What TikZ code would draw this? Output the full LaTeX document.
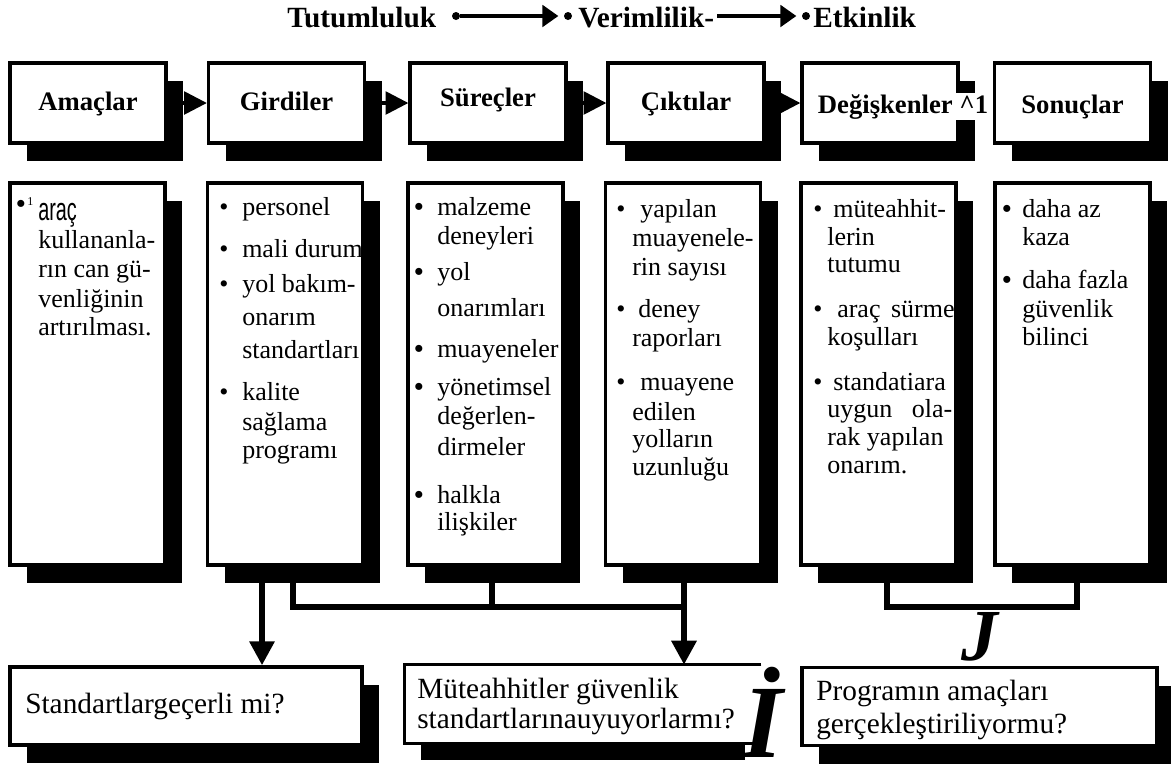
\documentclass[tikz,border=0pt]{standalone}
\usepackage{fontspec}
\setmainfont{Liberation Serif}
\newfontfamily\arialf{Liberation Sans}
\usetikzlibrary{arrows.meta,shadows,calc}
\begin{document}
\begin{tikzpicture}[x=0.75pt,y=-0.75pt,
  bx/.style={draw, line width=2.5pt, fill=white, inner sep=0pt,
     drop shadow={shadow xshift=12.75pt, shadow yshift=-13.5pt, fill=black, opacity=1}},
  tb/.style={bx, minimum width=117pt, minimum height=60pt},
  cb/.style={bx, minimum width=116.25pt, minimum height=286.5pt},
  lbl/.style={font=\fontsize{20}{22}\selectfont\bfseries, inner sep=0pt, anchor=base},
  hdr/.style={font=\fontsize{22}{24}\selectfont\bfseries, inner sep=0pt, anchor=base west},
  ct/.style={font=\fontsize{19.5}{22}\selectfont, inner sep=0pt, anchor=base west},
  bt/.style={font=\fontsize{22}{24}\selectfont, inner sep=0pt, anchor=base west},
  hdot/.style={circle, fill=black, inner sep=0pt, minimum size=6pt},
  harr/.style={line width=3.2pt, -{Triangle[length=12pt,width=16pt]}, shorten >=4pt},
  tarr/.style={line width=2.5pt, -{Triangle[length=17pt,width=17pt]}},
  conn/.style={line width=4.5pt, line join=miter},
  darr/.style={conn, -{Triangle[length=18pt,width=18pt]}},
]
\useasboundingbox (0,0) rectangle (1171,765);

% header
\node[hdr] (tut) at (287,27) {Tutumluluk};
\node[hdr] (ver) at (578,27) {Verimlilik-};
\node[hdr] (etk) at (813,27) {Etkinlik};
\node[hdot] (hd1) at (456,16) {};
\node[hdot] (hd2) at (568,16) {};
\node[hdot] (hd3) at (806,16) {};
\draw[harr] (hd1) -- (hd2);
\draw[harr] ([xshift=2pt]ver.east |- hd3) -- (hd3);

% top boxes
\node[tb] (a1) at (88,103) {};
\node[tb] (a2) at (286.5,103) {};
\node[tb] (a3) at (488,103) {};
\node[tb] (a4) at (686,103) {};
\node[tb] (a5) at (880,103) {};
\node[tb] (a6) at (1072.5,103) {};
\draw[tarr] (a1.east) -- (a2.west);
\draw[tarr] (a2.east) -- (a3.west);
\draw[tarr] (a3.east) -- (a4.west);
\draw[tarr] (a4.east) -- (a5.west);

\node[lbl] (l1) at (88,110) {Amaçlar};
\node[lbl] (l2) at (286.5,110) {Girdiler};
\node[lbl] (l3) at (488,106) {Süreçler};
\node[lbl] (l4) at (686,110) {Çıktılar};
\node[lbl, anchor=base west, fill=white, inner xsep=2pt, inner ysep=1pt] (l5) at (815,113) {Değişkenler \textasciicircum1};
\node[lbl] (l6) at (1072.5,113) {Sonuçlar};

% content boxes
\node[cb] (c1) at (87.5,374) {};
\node[cb] (c2) at (285,374) {};
\node[cb] (c3) at (485.5,374) {};
\node[cb] (c4) at (683,374) {};
\node[cb] (c5) at (878.5,374) {};
\node[cb] (c6) at (1072.5,374) {};

% bottom boxes
\node[bx, minimum width=264pt, minimum height=58.5pt] (b1) at (186,706) {};
\node[fill=white, inner sep=0pt, minimum width=267pt, minimum height=58.5pt] (b2) at (583,704) {};
\fill ([xshift=12pt]b2.south west) rectangle ([xshift=-12pt,yshift=-12.75pt]b2.south east);
\draw[line width=2.5pt] (b2.north east) -- (b2.north west) -- (b2.south west) -- (b2.south east);
\node[bx, minimum width=266.25pt, minimum height=58.5pt] (b3) at (979.5,706.5) {};

% connectors
\coordinate (g1) at (262,565);
\coordinate (g2) at (293,565);
\coordinate (g3) at (492,565);
\coordinate (g4) at (684,565);
\coordinate (j1) at (684,607);
\coordinate (g5) at (887,565);
\coordinate (g6) at (1077,565);
\draw[darr] (g1) -- (g1 |- b1.north);
\draw[conn] (g2) |- (j1);
\draw[conn] (g3) -- (g3 |- j1);
\draw[darr] (g4) -- (g4 |- b2.north);
\draw[conn] (g5) -- ++(0,42) -| (g6);

% column 1
\node[ct] (ab) at (16,212) {\bfseries •};
\node[inner sep=0pt, anchor=base west, font=\fontsize{9}{9}\selectfont] (ab1) at (27,205) {1};
\node[ct] (ar) at (38,220) {\scalebox{0.62}[1]{\fontsize{24}{24}\selectfont\arialf araç}};
\foreach \y/\t [count=\i] in {248/kullananla-, 277/rın can gü-, 307/venliğinin, 335/artırılması.}
  \node[ct] (ta\i) at (38,\y) {\t};

% column 2
\foreach \y in {215,257,292,400} \node[ct] (bg\y) at (219,\y) {•};
\foreach \y/\t [count=\i] in {215/personel, 257/mali durum, 292/yol bakım-, 325/onarım, 358/standartları, 400/kalite, 430/sağlama, 458/programı}
  \node[ct] (tg\i) at (242,\y) {\t};

% column 3
\foreach \y in {215,280,357,395,503} \node[ct] (bs\y) at (414,\y) {\bfseries •};
\foreach \y/\t [count=\i] in {215/malzeme, 244/deneyleri, 280/yol, 316/onarımları, 357/muayeneler, 395/yönetimsel, 424/değerlen-, 455/dirmeler, 503/halkla, 530/ilişkiler}
  \node[ct] (ts\i) at (437,\y) {\t};

% column 4
\foreach \y in {217,317,390} \node[ct] (bc\y) at (616,\y) {•};
\foreach \x/\y/\t [count=\i] in {640/217/yapılan, 632/246/muayenele-, 632/275/rin sayısı, 638/317/deney, 632/346/raporları, 640/390/muayene, 632/420/edilen, 632/447/yolların, 632/475/uzunluğu}
  \node[ct] (tc\i) at (\x,\y) {\t};

% column 5
\foreach \y in {217,317,390} \node[ct] (bd\y) at (813,\y) {•};
\foreach \x/\y/\t [count=\i] in {833/217/müteahhit-, 827/245/lerin, 827/272/tutumu, 837/317/{\makebox[88pt][s]{araç sürme}}, 827/345/koşulları, 833/390/standatiara, 827/417/{\makebox[93.75pt][s]{uygun ola-}}, 827/445/rak yapılan, 827/473/onarım.}
  \node[ct] (td\i) at (\x,\y) {\t};

% column 6
\foreach \y in {217,288} \node[ct] (bn\y) at (1002,\y) {\bfseries •};
\foreach \y/\t [count=\i] in {217/daha az, 245/kaza, 288/daha fazla, 317/güvenlik, 345/bilinci}
  \node[ct] (tn\i) at (1022,\y) {\t};

% bottom texts
\node[bt] (q1) at (25,713) {Standartlargeçerli mi?};
\node[bt] (q2a) at (417,698) {Müteahhitler güvenlik};
\node[bt] (q2b) at (417,728) {standartlarınauyuyorlarmı?};
\node[bt] (q3a) at (816,700) {Programın amaçları};
\node[bt] (q3b) at (816,733) {gerçekleştiriliyormu?};

% stray large letters
\node[inner sep=0pt, anchor=base, font=\fontsize{78}{80}\selectfont\bfseries\itshape] (bigI) at (763,757) {İ};
\node[inner sep=0pt, anchor=base, font=\fontsize{55}{56}\selectfont\bfseries\itshape] (bigJ) at (980,660) {J};
\end{tikzpicture}
\end{document}
